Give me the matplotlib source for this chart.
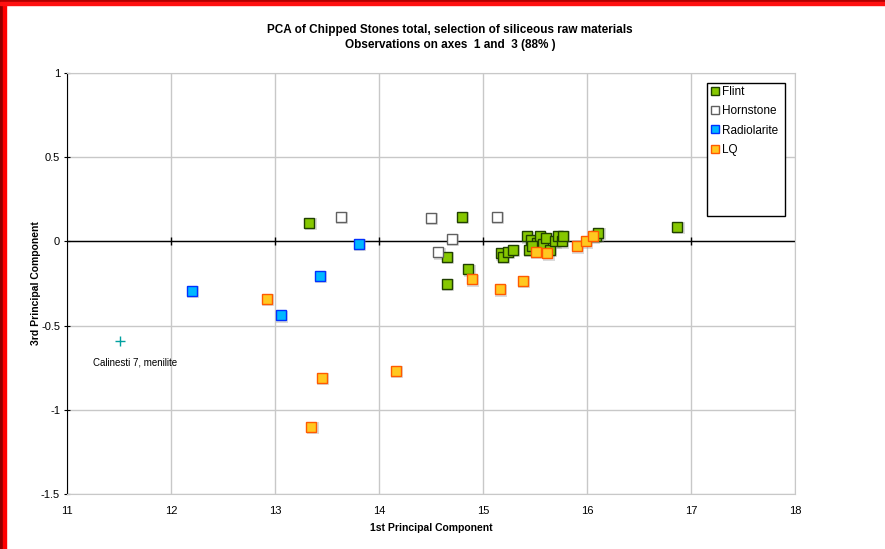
import matplotlib
matplotlib.use("Agg")
import matplotlib.pyplot as plt
from matplotlib.patches import Rectangle

plt.rcParams['font.family'] = ['Liberation Sans', 'DejaVu Sans']

# data (axis 1, axis 3)
flint_x = [13.33, 14.80, 14.65, 14.86, 14.65, 15.17, 15.19, 15.24, 15.29, 15.42, 15.46, 15.44,
           15.52, 15.55, 15.58, 15.61, 15.64, 15.69, 15.72, 15.76, 15.77, 15.47, 16.09, 16.11, 16.87]
flint_y = [0.11, 0.145, -0.09, -0.165, -0.25, -0.07, -0.09, -0.06, -0.05, 0.03, 0.01, -0.05,
           -0.01, 0.03, -0.015, 0.02, -0.05, 0.0, 0.03, 0.0, 0.035, -0.03, 0.035, 0.05, 0.085]
horn_x = [13.63, 14.50, 15.13, 14.70, 14.57]
horn_y = [0.145, 0.14, 0.145, 0.015, -0.065]
radio_x = [12.20, 13.06, 13.43, 13.81]
radio_y = [-0.295, -0.44, -0.205, -0.015]
lq_x = [12.92, 13.45, 13.35, 14.16, 14.89, 15.16, 15.38, 15.51, 15.62, 15.90, 15.99, 16.06]
lq_y = [-0.34, -0.81, -1.10, -0.77, -0.225, -0.285, -0.235, -0.06, -0.07, -0.03, 0.0, 0.03]
outlier = (11.51, -0.59)
outlier_label = "Calinesti 7, menilite"

fig = plt.figure(figsize=(8.85, 5.49), dpi=100)
ax = fig.add_axes([0.0757, 0.1002, 0.8226, 0.7668])

ax.set_xlim(11, 18)
ax.set_ylim(-1.5, 1)
ax.set_xticks(range(11, 19))
ax.set_yticks([-1.5, -1, -0.5, 0, 0.5, 1])
ax.set_yticklabels(["-1.5", "-1", "-0.5", "0", "0.5", "1"])
ax.grid(True, color='#c8c8c8', lw=1)
ax.set_axisbelow(True)
for s in ['top', 'right', 'bottom']:
    ax.spines[s].set_color('#c8c8c8')
ax.spines['left'].set_color('black')
ax.tick_params(axis='x', length=0, pad=9, labelsize=8)
ax.tick_params(axis='y', length=4, direction='inout', labelsize=8, color='black', pad=3)

# y = 0 axis line with crossing tick marks
ax.axhline(0, color='black', lw=1, zorder=2)
ax.plot(range(12, 18), [0] * 6, ls='none', marker='|', ms=6, color='black', mew=1, zorder=2)

ms = 7.5
def series(x, y, face, edge, label):
    # soft shadow
    ax.plot([v + 0.012 for v in x], [v - 0.008 for v in y], 's', ms=ms + 1, color='#999999',
            alpha=0.35, mew=0, zorder=3)
    ax.plot(x, y, 's', ms=ms, mfc=face, mec=edge, mew=1, label=label, zorder=4)

series(flint_x, flint_y, '#86c800', '#204000', 'Flint')
series(horn_x, horn_y, 'white', '#606060', 'Hornstone')
series(radio_x, radio_y, '#00b8ff', '#0030ff', 'Radiolarite')
series(lq_x, lq_y, '#ffc820', '#ff5a00', 'LQ')

ax.plot(*outlier, '+', ms=7, color='#00a0a0', mew=1, zorder=4)
ax.annotate(outlier_label, outlier, xytext=(-27, -22), textcoords='offset pixels',
            fontsize=7, ha='left', va='center')

# legend: tall box like the original, entries in the upper part
ax.add_patch(Rectangle((0.879, 0.660), 0.107, 0.316, transform=ax.transAxes, fill=True,
                       facecolor='white', edgecolor='black', lw=1, zorder=5))
leg = ax.legend(loc='upper left', bbox_to_anchor=(0.879, 0.978), frameon=False,
                fontsize=8.5, markerscale=0.75, handlelength=0.6, handletextpad=0.3,
                borderpad=0.35, labelspacing=0.6, borderaxespad=0)
leg.set_zorder(6)

fig.text(0.5085, 0.945, "PCA of Chipped Stones total, selection of siliceous raw materials",
         ha='center', va='center', fontsize=8.5, fontweight='bold')
fig.text(0.5085, 0.918, "Observations on axes  1 and  3 (88% )",
         ha='center', va='center', fontsize=8.5, fontweight='bold')
ax.set_xlabel("1st Principal Component", fontsize=7.5, fontweight='bold', labelpad=5)
ax.set_ylabel("3rd Principal Component", fontsize=7.5, fontweight='bold', labelpad=0)

# window border
W, H = 885, 549
fig.patches.append(Rectangle((0, 0), 3 / W, 1, transform=fig.transFigure, color='#900000', zorder=10))
fig.patches.append(Rectangle((3 / W, 0), 3 / W, 1, transform=fig.transFigure, color='#ff0000', zorder=10))
fig.patches.append(Rectangle((0, 1 - 2 / H), 1, 2 / H, transform=fig.transFigure, color='#b00000', zorder=10))
fig.patches.append(Rectangle((0, 1 - 5 / H), 1, 3 / H, transform=fig.transFigure, color='#ff1010', zorder=10))

fig.savefig("out.png", dpi=100)
